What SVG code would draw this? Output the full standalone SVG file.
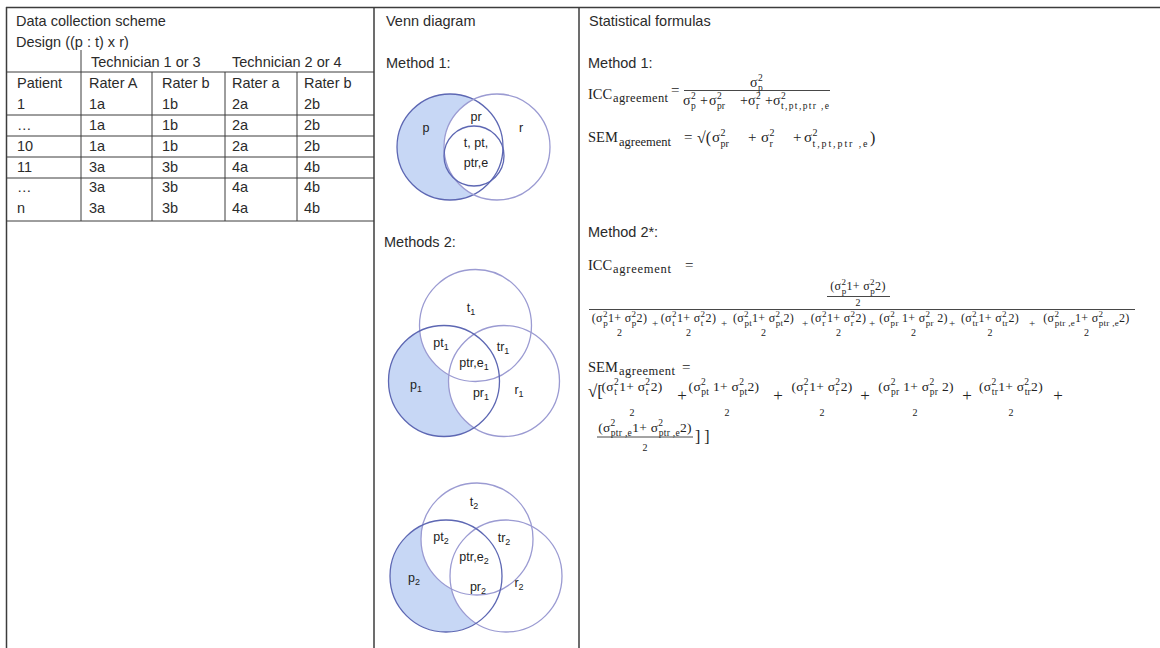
<svg xmlns="http://www.w3.org/2000/svg" width="1160" height="648" viewBox="0 0 1160 648">
<style>
.sans{font-family:"Liberation Sans",Arial,sans-serif;font-size:14.5px;fill:#2b2b2b}
.vl{font-family:"Liberation Sans",Arial,sans-serif;font-size:12.5px;fill:#222;text-anchor:middle}
.vs{font-size:9px}
.se{font-family:"Liberation Serif","Times New Roman",serif;fill:#222}
.big{font-size:14.5px}
.ag{font-size:12.5px}
.eq{font-size:15px}
.m{font-size:14px}
.m15{font-size:15px}
.u9{font-size:9.5px}
.u10{font-size:10px}
.dt{font-size:12px;text-anchor:middle;letter-spacing:0.3px}
.u{font-size:9px}
.st{font-size:13.5px;text-anchor:middle;letter-spacing:0.3px}
.s9{font-size:9.5px}
.two{font-size:10px;text-anchor:middle}
.pl{font-size:11px;text-anchor:middle}
.pl2{font-size:17px;text-anchor:middle}
.frame line{stroke:#3c3c3c;stroke-width:1.5}
.grid line{stroke:#3c3c3c;stroke-width:1}
.bar{stroke:#333;stroke-width:0.9}
.blue{fill:#c7d7f5;stroke:none}
.wh{fill:#fff;stroke:none}
.c1{fill:none;stroke:#5d67b3;stroke-width:1.3}
.c2{fill:none;stroke:#9b9bd2;stroke-width:1.3}
</style>

<g id="frame" class="frame">
<line x1="6" y1="7.5" x2="1160" y2="7.5"/>
<line x1="6.5" y1="7" x2="6.5" y2="648"/>
<line x1="374" y1="7" x2="374" y2="648"/>
<line x1="579" y1="7" x2="579" y2="648"/>
</g>

<g id="table">
<g class="grid">
<line x1="6" y1="72" x2="374" y2="72"/>
<line x1="6" y1="115" x2="374" y2="115"/>
<line x1="6" y1="136" x2="374" y2="136"/>
<line x1="6" y1="157" x2="374" y2="157"/>
<line x1="6" y1="178" x2="374" y2="178"/>
<line x1="6" y1="221" x2="374" y2="221"/>
<line x1="81" y1="50" x2="81" y2="221"/>
<line x1="152" y1="72" x2="152" y2="221"/>
<line x1="225" y1="72" x2="225" y2="221"/>
<line x1="297" y1="72" x2="297" y2="221"/>
</g>
<text class="sans" x="16" y="26">Data collection scheme</text>
<text class="sans" x="16" y="47">Design ((p : t) x r)</text>
<text class="sans" x="91" y="67">Technician 1 or 3</text>
<text class="sans" x="232" y="67">Technician 2 or 4</text>
<text class="sans" y="88"><tspan x="17">Patient</tspan><tspan x="89">Rater A</tspan><tspan x="162">Rater b</tspan><tspan x="232">Rater a</tspan><tspan x="304">Rater b</tspan></text>
<text class="sans" y="109"><tspan x="17">1</tspan><tspan x="89">1a</tspan><tspan x="162">1b</tspan><tspan x="232">2a</tspan><tspan x="304">2b</tspan></text>
<text class="sans" y="130"><tspan x="17">…</tspan><tspan x="89">1a</tspan><tspan x="162">1b</tspan><tspan x="232">2a</tspan><tspan x="304">2b</tspan></text>
<text class="sans" y="151"><tspan x="17">10</tspan><tspan x="89">1a</tspan><tspan x="162">1b</tspan><tspan x="232">2a</tspan><tspan x="304">2b</tspan></text>
<text class="sans" y="172"><tspan x="17">11</tspan><tspan x="89">3a</tspan><tspan x="162">3b</tspan><tspan x="232">4a</tspan><tspan x="304">4b</tspan></text>
<text class="sans" y="192"><tspan x="17">…</tspan><tspan x="89">3a</tspan><tspan x="162">3b</tspan><tspan x="232">4a</tspan><tspan x="304">4b</tspan></text>
<text class="sans" y="213"><tspan x="17">n</tspan><tspan x="89">3a</tspan><tspan x="162">3b</tspan><tspan x="232">4a</tspan><tspan x="304">4b</tspan></text>
</g>

<g id="venn-header">
<text class="sans" x="386" y="26">Venn diagram</text>
<text class="sans" x="386" y="68">Method 1:</text>
<text class="sans" x="384" y="247">Methods 2:</text>
</g>

<g id="venn1">
<circle class="blue" cx="450" cy="147" r="53"/>
<circle class="wh" cx="497" cy="147" r="53"/>
<circle class="c1" cx="450" cy="147" r="53"/>
<circle class="c2" cx="497" cy="147" r="53"/>
<circle class="c1" cx="474" cy="156" r="30"/>
<text class="vl" x="426" y="132">p</text>
<text class="vl" x="476" y="121">pr</text>
<text class="vl" x="521" y="132">r</text>
<text class="vl" x="476" y="147">t, pt,</text>
<text class="vl" x="476" y="167">ptr,e</text>
</g>

<g id="venn2">
<circle class="blue" cx="444" cy="381" r="55.5"/>
<circle class="wh" cx="475.5" cy="325.5" r="56"/>
<circle class="wh" cx="504" cy="381" r="55.5"/>
<circle class="c2" cx="475.5" cy="325.5" r="56"/>
<circle class="c2" cx="504" cy="381" r="55.5"/>
<circle class="c1" cx="444" cy="381" r="55.5"/>
<text class="vl" x="471" y="312">t<tspan class="vs" dy="3">1</tspan></text>
<text class="vl" x="441" y="347">pt<tspan class="vs" dy="3">1</tspan></text>
<text class="vl" x="503" y="351">tr<tspan class="vs" dy="3">1</tspan></text>
<text class="vl" x="474" y="367">ptr,e<tspan class="vs" dy="3">1</tspan></text>
<text class="vl" x="416" y="389">p<tspan class="vs" dy="3">1</tspan></text>
<text class="vl" x="481" y="397">pr<tspan class="vs" dy="3">1</tspan></text>
<text class="vl" x="519" y="394">r<tspan class="vs" dy="3">1</tspan></text>
</g>

<g id="venn3">
<circle class="blue" cx="446" cy="576" r="56"/>
<circle class="wh" cx="477" cy="539" r="56"/>
<circle class="wh" cx="506" cy="576" r="56"/>
<circle class="c2" cx="477" cy="539" r="56"/>
<circle class="c2" cx="506" cy="576" r="56"/>
<circle class="c1" cx="446" cy="576" r="56"/>
<text class="vl" x="474" y="506">t<tspan class="vs" dy="3">2</tspan></text>
<text class="vl" x="441" y="541">pt<tspan class="vs" dy="3">2</tspan></text>
<text class="vl" x="504" y="542">tr<tspan class="vs" dy="3">2</tspan></text>
<text class="vl" x="474" y="561">ptr,e<tspan class="vs" dy="3">2</tspan></text>
<text class="vl" x="414" y="582">p<tspan class="vs" dy="3">2</tspan></text>
<text class="vl" x="478" y="591">pr<tspan class="vs" dy="3">2</tspan></text>
<text class="vl" x="519" y="587">r<tspan class="vs" dy="3">2</tspan></text>
</g>

<g id="formulas-header">
<text class="sans" x="589" y="26">Statistical formulas</text>
<text class="sans" x="588" y="68">Method 1:</text>
<text class="sans" x="588" y="237">Method 2*:</text>
</g>

<g id="icc1" class="se">
<text class="big" x="588" y="99">ICC</text>
<text class="ag" x="613" y="102" textLength="55" lengthAdjust="spacing">agreement</text>
<text class="eq" x="671" y="95">=</text>
<text class="m" x="750" y="87">σ</text>
<text class="u9" x="758" y="81">2</text>
<text class="u9" x="758" y="91">p</text>
<line class="bar" x1="684" y1="90.5" x2="830" y2="90.5"/>
<text class="m" y="105"><tspan x="683">σ</tspan><tspan x="700">+</tspan><tspan x="709">σ</tspan><tspan x="740">+σ</tspan><tspan x="765">+σ</tspan></text>
<text class="u9" y="99"><tspan x="691">2</tspan><tspan x="717">2</tspan><tspan x="756">2</tspan><tspan x="781">2</tspan></text>
<text class="u9" y="109"><tspan x="691">p</tspan><tspan x="717">pr</tspan><tspan x="756">r</tspan></text>
<text class="u9" x="781" y="109" textLength="48" lengthAdjust="spacing">t,pt,ptr ,e</text>
</g>

<g id="sem1" class="se">
<text class="big" x="588" y="142">SEM</text>
<text class="ag" x="619" y="146" textLength="52" lengthAdjust="spacing">agreement</text>
<text class="eq" x="684" y="141.5">=</text>
<text x="697" y="143" font-size="16">√(</text>
<text class="m15" y="142"><tspan x="712">σ</tspan><tspan x="748">+</tspan><tspan x="761">σ</tspan><tspan x="793">+</tspan><tspan x="804">σ</tspan></text>
<text class="u10" y="135.5"><tspan x="720.5">2</tspan><tspan x="769.5">2</tspan><tspan x="812.5">2</tspan></text>
<text class="u10" y="146.5"><tspan x="720.5">pr</tspan><tspan x="769.5">r</tspan></text>
<text class="u10" x="812.5" y="146.5" textLength="55" lengthAdjust="spacing">t,pt,ptr ,e</text>
<text x="870" y="143" font-size="16">)</text>
</g>

<g id="icc2" class="se">
<text class="big" x="588" y="270">ICC</text>
<text class="ag" x="613" y="273" textLength="58" lengthAdjust="spacing">agreement</text>
<text class="eq" x="685" y="270">=</text>
<text class="dt" x="858" y="290">(σ<tspan class="u" dy="-5">2</tspan><tspan class="u" dx="-4.5" dy="9">p</tspan><tspan dy="-4">1+ σ</tspan><tspan class="u" dy="-5">2</tspan><tspan class="u" dx="-4.5" dy="9">p</tspan><tspan dy="-4">2)</tspan></text>
<line class="bar" x1="827" y1="296.5" x2="890" y2="296.5"/>
<text class="two" x="858" y="306">2</text>
<line class="bar" x1="589" y1="309.5" x2="1135" y2="309.5"/>
<text class="dt" x="619.5" y="322">(σ<tspan class="u" dy="-5">2</tspan><tspan class="u" dx="-4.5" dy="9">p</tspan><tspan dy="-4">1+ σ</tspan><tspan class="u" dy="-5">2</tspan><tspan class="u" dx="-4.5" dy="9">p</tspan><tspan dy="-4">2)</tspan></text>
<text class="dt" x="688.5" y="322">(σ<tspan class="u" dy="-5">2</tspan><tspan class="u" dx="-4.5" dy="9">t</tspan><tspan dx="2" dy="-4">1+ σ</tspan><tspan class="u" dy="-5">2</tspan><tspan class="u" dx="-4.5" dy="9">t</tspan><tspan dx="2" dy="-4">2)</tspan></text>
<text class="dt" x="763.5" y="322">(σ<tspan class="u" dy="-5">2</tspan><tspan class="u" dx="-4.5" dy="9">pt</tspan><tspan dy="-4">1+ σ</tspan><tspan class="u" dy="-5">2</tspan><tspan class="u" dx="-4.5" dy="9">pt</tspan><tspan dy="-4">2)</tspan></text>
<text class="dt" x="838.5" y="322">(σ<tspan class="u" dy="-5">2</tspan><tspan class="u" dx="-4.5" dy="9">r</tspan><tspan dx="1.5" dy="-4">1+ σ</tspan><tspan class="u" dy="-5">2</tspan><tspan class="u" dx="-4.5" dy="9">r</tspan><tspan dx="1.5" dy="-4">2)</tspan></text>
<text class="dt" x="913.5" y="322">(σ<tspan class="u" dy="-5">2</tspan><tspan class="u" dx="-4.5" dy="9">pr</tspan><tspan dy="-4"> 1+ σ</tspan><tspan class="u" dy="-5">2</tspan><tspan class="u" dx="-4.5" dy="9">pr</tspan><tspan dy="-4"> 2)</tspan></text>
<text class="dt" x="990" y="322">(σ<tspan class="u" dy="-5">2</tspan><tspan class="u" dx="-4.5" dy="9">tr</tspan><tspan dy="-4">1+ σ</tspan><tspan class="u" dy="-5">2</tspan><tspan class="u" dx="-4.5" dy="9">tr</tspan><tspan dy="-4">2)</tspan></text>
<text class="dt" x="1086.5" y="322">(σ<tspan class="u" dy="-5">2</tspan><tspan class="u" dx="-4.5" dy="9">ptr ,e</tspan><tspan dy="-4">1+ σ</tspan><tspan class="u" dy="-5">2</tspan><tspan class="u" dx="-4.5" dy="9">ptr ,e</tspan><tspan dy="-4">2)</tspan></text>
<text class="pl" y="327"><tspan x="655">+</tspan><tspan x="724">+</tspan><tspan x="805">+</tspan><tspan x="872">+</tspan><tspan x="952">+</tspan><tspan x="1032">+</tspan></text>
<text class="two" y="336"><tspan x="619.5">2</tspan><tspan x="688.5">2</tspan><tspan x="763.5">2</tspan><tspan x="838.5">2</tspan><tspan x="913.5">2</tspan><tspan x="990">2</tspan><tspan x="1086.5">2</tspan></text>
</g>

<g id="sem2" class="se">
<text class="big" x="588" y="372">SEM</text>
<text class="ag" x="619" y="375" textLength="56" lengthAdjust="spacing">agreement</text>
<text class="eq" x="682" y="372">=</text>
<text x="588" y="397" font-size="17">√[</text>
<text class="st" x="632" y="391">(σ<tspan class="s9" dy="-6">2</tspan><tspan class="s9" dx="-4.75" dy="10">t</tspan><tspan dx="2" dy="-4">1+ σ</tspan><tspan class="s9" dy="-6">2</tspan><tspan class="s9" dx="-4.75" dy="10">t</tspan><tspan dx="2" dy="-4">2)</tspan></text>
<text class="st" x="724" y="391">(σ<tspan class="s9" dy="-6">2</tspan><tspan class="s9" dx="-4.75" dy="10">pt</tspan><tspan dy="-4"> 1+ σ</tspan><tspan class="s9" dy="-6">2</tspan><tspan class="s9" dx="-4.75" dy="10">pt</tspan><tspan dy="-4">2)</tspan></text>
<text class="st" x="822" y="391">(σ<tspan class="s9" dy="-6">2</tspan><tspan class="s9" dx="-4.75" dy="10">r</tspan><tspan dx="1.5" dy="-4">1+ σ</tspan><tspan class="s9" dy="-6">2</tspan><tspan class="s9" dx="-4.75" dy="10">r</tspan><tspan dx="1.5" dy="-4">2)</tspan></text>
<text class="st" x="916" y="391">(σ<tspan class="s9" dy="-6">2</tspan><tspan class="s9" dx="-4.75" dy="10">pr</tspan><tspan dy="-4"> 1+ σ</tspan><tspan class="s9" dy="-6">2</tspan><tspan class="s9" dx="-4.75" dy="10">pr</tspan><tspan dy="-4"> 2)</tspan></text>
<text class="st" x="1011" y="391">(σ<tspan class="s9" dy="-6">2</tspan><tspan class="s9" dx="-4.75" dy="10">tr</tspan><tspan dy="-4">1+ σ</tspan><tspan class="s9" dy="-6">2</tspan><tspan class="s9" dx="-4.75" dy="10">tr</tspan><tspan dy="-4">2)</tspan></text>
<text class="pl2" y="401"><tspan x="682">+</tspan><tspan x="778">+</tspan><tspan x="865">+</tspan><tspan x="967">+</tspan><tspan x="1058">+</tspan></text>
<text class="two" y="416"><tspan x="632">2</tspan><tspan x="727">2</tspan><tspan x="822">2</tspan><tspan x="915">2</tspan><tspan x="1011">2</tspan></text>
<text class="st" x="645" y="432">(σ<tspan class="s9" dy="-6">2</tspan><tspan class="s9" dx="-4.75" dy="10">ptr ,e</tspan><tspan dy="-4">1+ σ</tspan><tspan class="s9" dy="-6">2</tspan><tspan class="s9" dx="-4.75" dy="10">ptr ,e</tspan><tspan dy="-4">2)</tspan></text>
<line class="bar" x1="597" y1="437" x2="693" y2="437"/>
<text class="two" x="645" y="451">2</text>
<text x="695" y="442" font-size="16">] ]</text>
</g>
</svg>
